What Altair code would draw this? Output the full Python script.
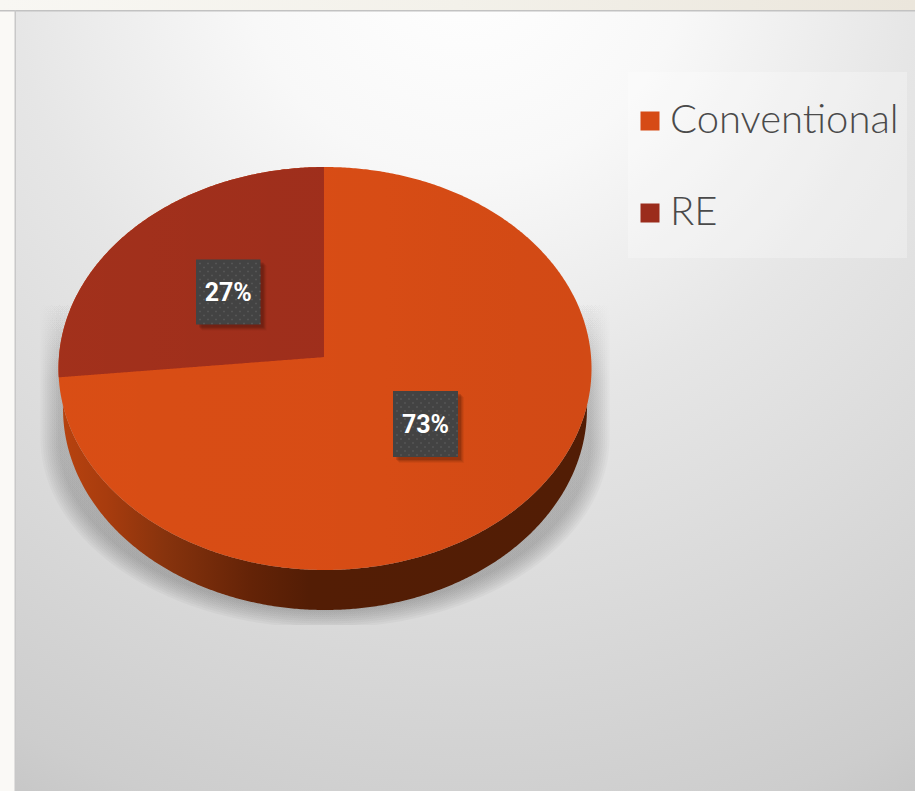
import numpy as np
import pandas as pd
import altair as alt

# Shares of the generation mix
series = ["Conventional", "RE"]
shares = [73, 27]
series_colors = ["#d64b15", "#9b2c1c"]

W, H = 915, 791

# Tilted disc geometry, in the pixel-like units of the x and y scales
CX, CY, RX, RY = 325.0, 368.5, 266.5, 201.5
APEX_Y = 357.0
DEPTH = 40.0
RX_BOTTOM = 262.0
TILT = 0.8


def upper(x, rx=RX, ry=RY, cy=CY):
    return cy - ry * np.sqrt(np.clip(1 - ((x - CX) / rx) ** 2, 0, 1))


def lower(x, rx=RX, ry=RY, cy=CY):
    return cy + ry * np.sqrt(np.clip(1 - ((x - CX) / rx) ** 2, 0, 1))


def span(rx, n=400):
    return CX + rx * np.sin(np.linspace(-np.pi / 2, np.pi / 2, n))


# The wedge sweeps back from twelve o'clock; its straight edge runs from the apex
theta = np.radians(shares[1] / 100 * 360)
slope_y = -np.cos(theta) * RY * TILT / (np.sin(theta) * RX)

xs_full = span(RX)
top_df = pd.DataFrame({"x": xs_full, "y": upper(xs_full), "y2": lower(xs_full), "name": series[0]})
xs_wedge = xs_full[xs_full <= CX]
wedge_edge = APEX_Y + (CX - xs_wedge) * slope_y
wedge_df = pd.DataFrame(
    {"x": xs_wedge, "y": upper(xs_wedge), "y2": np.minimum(wedge_edge, lower(xs_wedge)), "name": series[1]}
)
pie_df = pd.concat([top_df, wedge_df], ignore_index=True)

x_scale = alt.Scale(domain=[0, W], nice=False, zero=False)
y_scale = alt.Scale(domain=[H, 0], nice=False, zero=False)
X = alt.X("x:Q", scale=x_scale, axis=None)
Y = alt.Y("y:Q", scale=y_scale, axis=None, stack=None)


def band(df, **mark):
    return alt.Chart(df).mark_area(orient="vertical", **mark).encode(x=X, y=Y, y2="y2:Q")


def box(x, x2, y, y2, **mark):
    return (
        alt.Chart(pd.DataFrame({"x": [x], "x2": [x2], "y": [y], "y2": [y2]}))
        .mark_rect(**mark)
        .encode(x=X, x2="x2:Q", y=Y, y2="y2:Q")
    )


def linear(stops, x1=0, y1=0, x2=1, y2=0):
    return alt.Gradient(
        gradient="linear",
        stops=[alt.GradientStop(offset=o, color=c) for o, c in stops],
        x1=x1, y1=y1, x2=x2, y2=y2,
    )


layers = []

# Page frame and slide panel
layers.append(box(0, 15, 0, H, color="#faf9f6"))
layers.append(box(0, W, 0, 10, color=linear([(0, "#f8f7f3"), (0.5, "#f3f1ea"), (1, "#ebe6dc")])))
radial_stops = [
    (0, "#ffffff"), (0.22, "#f8f8f8"), (0.45, "#e6e6e6"),
    (0.63, "#dcdcdc"), (0.89, "#cdcdcd"), (1, "#c2c2c2"),
]
layers.append(
    box(15, W, 11, H, color=alt.Gradient(
        gradient="radial",
        stops=[alt.GradientStop(offset=o, color=c) for o, c in radial_stops],
        x1=0.5, y1=0.0, r1=0, x2=0.5, y2=0.0, r2=1.12,
    ))
)
layers.append(box(0, W, 10, 11.5, color="#c2c2c2"))
layers.append(box(14.5, 16, 10, H, color="#c8c8c8"))

# Translucent plate behind the legend
layers.append(box(628, 907, 72, 258, color="rgba(255,255,255,0.28)"))

# Soft shadow beneath the disc, built up from nested translucent shapes
for step in range(9):
    grow = 18 - step * 2.2
    srx = RX + grow
    xs = span(srx, 240)
    bottom = lower(xs, rx=srx, ry=172 + grow, cy=438)
    shadow = pd.DataFrame({"x": xs, "y": np.full_like(xs, 300.0), "y2": np.minimum(bottom, 625)})
    layers.append(
        band(shadow, color=linear(
            [(0, "rgba(80,80,80,0)"), (0.25, "rgba(80,80,80,0.035)"), (1, "rgba(80,80,80,0.05)")],
            x1=0, y1=0, x2=0, y2=1,
        ))
    )

# Side wall of the disc
xs_wall = span(RX)
wall_top = lower(xs_wall)
inside = np.abs(xs_wall - CX) <= RX_BOTTOM
wall_bottom = wall_top.copy()
wall_bottom[inside] = lower(xs_wall[inside], rx=RX_BOTTOM, cy=CY + DEPTH)
wall = pd.DataFrame({"x": xs_wall, "y": wall_top, "y2": np.maximum(wall_top, wall_bottom)})
layers.append(
    band(wall, color=linear([
        (0, "#b8430f"), (0.09, "#a83c0e"), (0.2, "#87330d"),
        (0.36, "#642307"), (0.47, "#531d05"), (1, "#521d05"),
    ]))
)

# Top face of the disc, with the legend driven from its series
layers.append(
    alt.Chart(pie_df).mark_area(orient="vertical").encode(
        x=X, y=Y, y2="y2:Q",
        color=alt.Color(
            "name:N",
            scale=alt.Scale(domain=series, range=series_colors),
            legend=alt.Legend(
                title=None, orient="none", legendX=630, legendY=101,
                symbolType="square", symbolSize=361, symbolStrokeWidth=0,
                symbolOpacity=1,
                labelFont="Lato", labelFontSize=40, labelFontWeight=300, labelColor="#4a4a4a",
                labelLimit=300, labelOffset=0,
                padding=0, rowPadding=52, offset=0,
            ),
        ),
    )
)
# Faint sheen across the orange face
layers.append(
    band(top_df[["x", "y", "y2"]], color=linear(
        [(0, "rgba(255,110,20,0.07)"), (0.6, "rgba(255,110,20,0.03)"), (1, "rgba(0,0,0,0.02)")]
    ))
)

# Value tags: drop shadow, dark plate, dot texture, text
tags = pd.DataFrame({
    "x": [196.0, 393.0], "x2": [260.5, 458.0],
    "y": [259.5, 391.0], "y2": [324.5, 457.0],
    "label": [f"{shares[1]}%", f"{shares[0]}%"],
})
for _, t in tags.iterrows():
    for off, alpha in [(6, 0.06), (5, 0.08), (4, 0.10), (3, 0.14)]:
        layers.append(box(t.x + off, t.x2 + off, t.y + off, t.y2 + off, color=f"rgba(30,10,5,{alpha})"))
    layers.append(box(t.x, t.x2, t.y, t.y2, color="#434343"))
    dots = [
        {"x": t.x + 4 + i * 4, "y": t.y + 4 + j * 4}
        for j in range(int((t.y2 - t.y) // 4))
        for i in range(int((t.x2 - t.x) // 4))
        if (i + j) % 2 == 0
    ]
    layers.append(
        alt.Chart(pd.DataFrame(dots))
        .mark_square(size=3, color="#6a6a6a", opacity=0.55)
        .encode(x=X, y=Y)
    )

tags["tx"] = (tags.x + tags.x2) / 2
tags["ty"] = (tags.y + tags.y2) / 2 + 1
layers.append(
    alt.Chart(tags)
    .mark_text(font="Roboto", fontWeight="bold", fontSize=25, color="#ffffff", align="center", baseline="middle")
    .encode(x=alt.X("tx:Q", scale=x_scale, axis=None), y=alt.Y("ty:Q", scale=y_scale, axis=None), text="label:N")
)

chart = (
    alt.layer(*layers)
    .resolve_scale(color="shared")
    .properties(
        width=W, height=H, padding=0,
        autosize=alt.AutoSizeParams(type="none"),
        background="#faf9f6",
    )
    .configure_view(stroke=None)
)

chart.save("out.html", embed_options={"renderer": "svg", "actions": False})
